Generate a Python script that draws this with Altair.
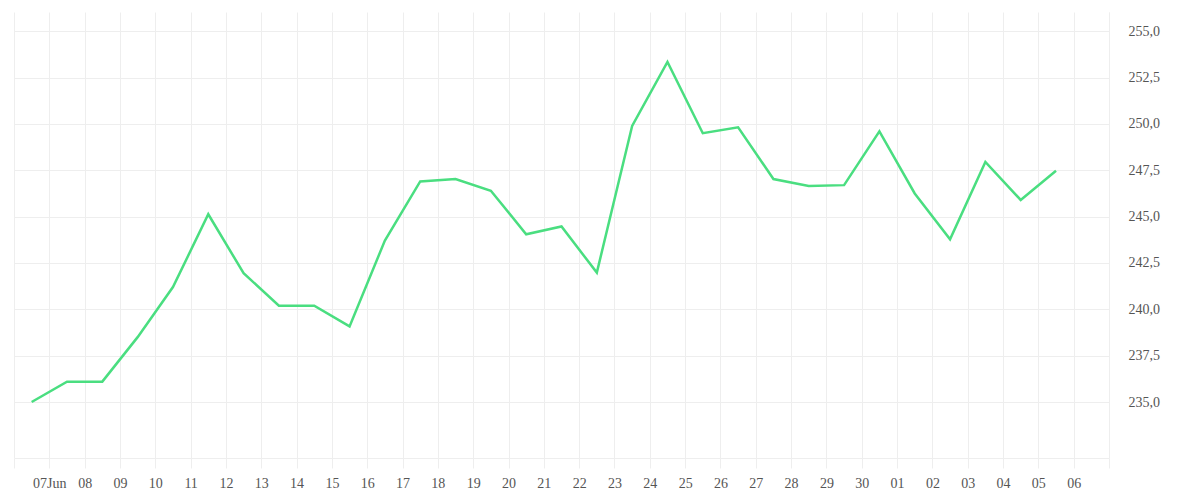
import altair as alt
import pandas as pd

# Daily points (plotted at mid-day), 06 Jun .. 05 Jul
dates = pd.date_range("2024-06-06 12:00", periods=30, freq="D")
values = [235.0, 236.1, 236.1, 238.5, 241.2, 245.13, 241.95, 240.2, 240.2, 239.08,
          243.71, 246.9, 247.03, 246.4, 244.05, 244.47, 241.98, 249.89, 253.35, 249.5,
          249.82, 247.03, 246.65, 246.7, 249.6, 246.25, 243.78, 247.95, 245.9, 247.48]

y_ticks = [235.0, 237.5, 240.0, 242.5, 245.0, 247.5, 250.0, 252.5, 255.0]
x_ticks = pd.date_range("2024-06-06", "2024-07-07", freq="D")

df = pd.DataFrame({
    "date": [d.strftime("%Y-%m-%dT%H:%M:%SZ") for d in dates],
    "value": values,
})

grid_color = "#eeeeee"
text_color = "#555555"
font = "Liberation Serif"

def dt(ts):
    return alt.DateTime(year=ts.year, month=ts.month, date=ts.day, hours=0, utc=True)

label_expr = (
    "(datum.value <= utc(2024,5,6) || datum.value >= utc(2024,6,7)) ? '' : "
    "(utcmonth(datum.value) == 5 && utcdate(datum.value) == 7) ? '07Jun' : "
    "utcFormat(datum.value, '%d')"
)

chart = alt.Chart(df).mark_line(color="#4ade80", strokeWidth=2.5).encode(
    x=alt.X(
        "date:T",
        scale=alt.Scale(type="utc", domain=[dt(x_ticks[0]), dt(x_ticks[-1])], nice=False),
        axis=alt.Axis(
            title=None,
            values=[dt(t) for t in x_ticks],
            labelExpr=label_expr,
            tickSize=10,
            tickColor=grid_color,
            domainColor=grid_color,
            gridColor=grid_color,
            labelPadding=8,
            labelFlush=False,
            labelOverlap=False,
        ),
    ),
    y=alt.Y(
        "value:Q",
        scale=alt.Scale(domain=[231.98, 256.04], nice=False, zero=False),
        axis=alt.Axis(
            title=None,
            orient="right",
            values=y_ticks,
            labelExpr="replace(format(datum.value, '.1f'), '.', ',')",
            ticks=False,
            labelPadding=19,
            domainColor=grid_color,
            gridColor=grid_color,
        ),
    ),
).properties(
    width=1095,
    height=446,
    padding={"left": 5, "top": 4, "right": 10, "bottom": 5},
).configure_axis(
    labelFont=font,
    labelFontSize=14,
    labelColor=text_color,
    gridWidth=1,
    domainWidth=1,
).configure_view(stroke=None)

chart.save("out.html", embed_options={"renderer": "svg", "actions": False})
